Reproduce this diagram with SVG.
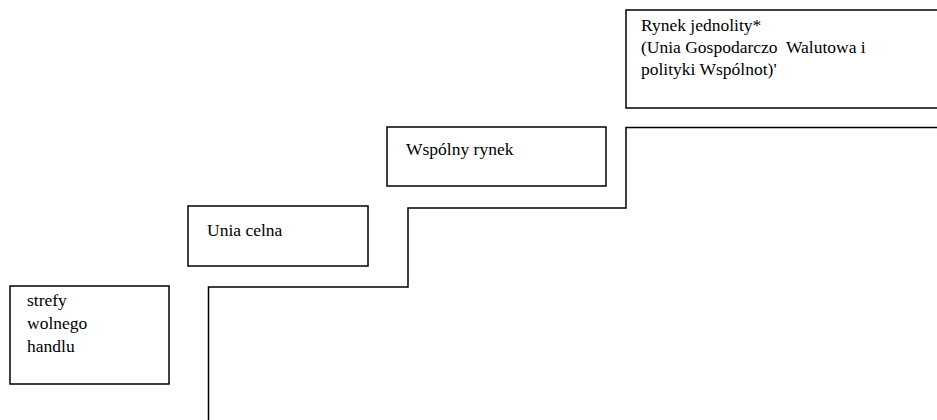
<svg xmlns="http://www.w3.org/2000/svg" width="937" height="420" viewBox="0 0 937 420">
<style>
.box{fill:#fff;stroke:#000;stroke-width:1.5}
.t{font-size:17.5px;fill:#000;white-space:pre}
.conn{fill:none;stroke:#000;stroke-width:1.5}
</style>
<rect width="937" height="420" fill="#fff"/>
<g id="connectors">
<path class="conn" d="M208.5,420 V287 H408 V208 H626 V127.5 H937"/>
</g>
<g font-family="Liberation Serif, Times New Roman, serif">
<g id="node-strefy">
<rect class="box" x="10" y="286" width="159" height="98"/>
<text class="t" x="27" y="306">strefy</text>
<text class="t" x="27" y="329">wolnego</text>
<text class="t" x="27" y="352">handlu</text>
</g>
<g id="node-unia">
<rect class="box" x="188" y="206" width="180" height="60"/>
<text class="t" x="207" y="236">Unia celna</text>
</g>
<g id="node-wspolny">
<rect class="box" x="387" y="127" width="219" height="59"/>
<text class="t" x="406" y="155">Wspólny rynek</text>
</g>
<g id="node-rynek">
<rect class="box" x="626" y="10" width="315" height="98"/>
<text class="t" x="641" y="31">Rynek jednolity*</text>
<text class="t" x="641" y="53" xml:space="preserve">(Unia Gospodarczo  Walutowa i</text>
<text class="t" x="641" y="75">polityki Wspólnot)'</text>
</g>
</g>
</svg>
